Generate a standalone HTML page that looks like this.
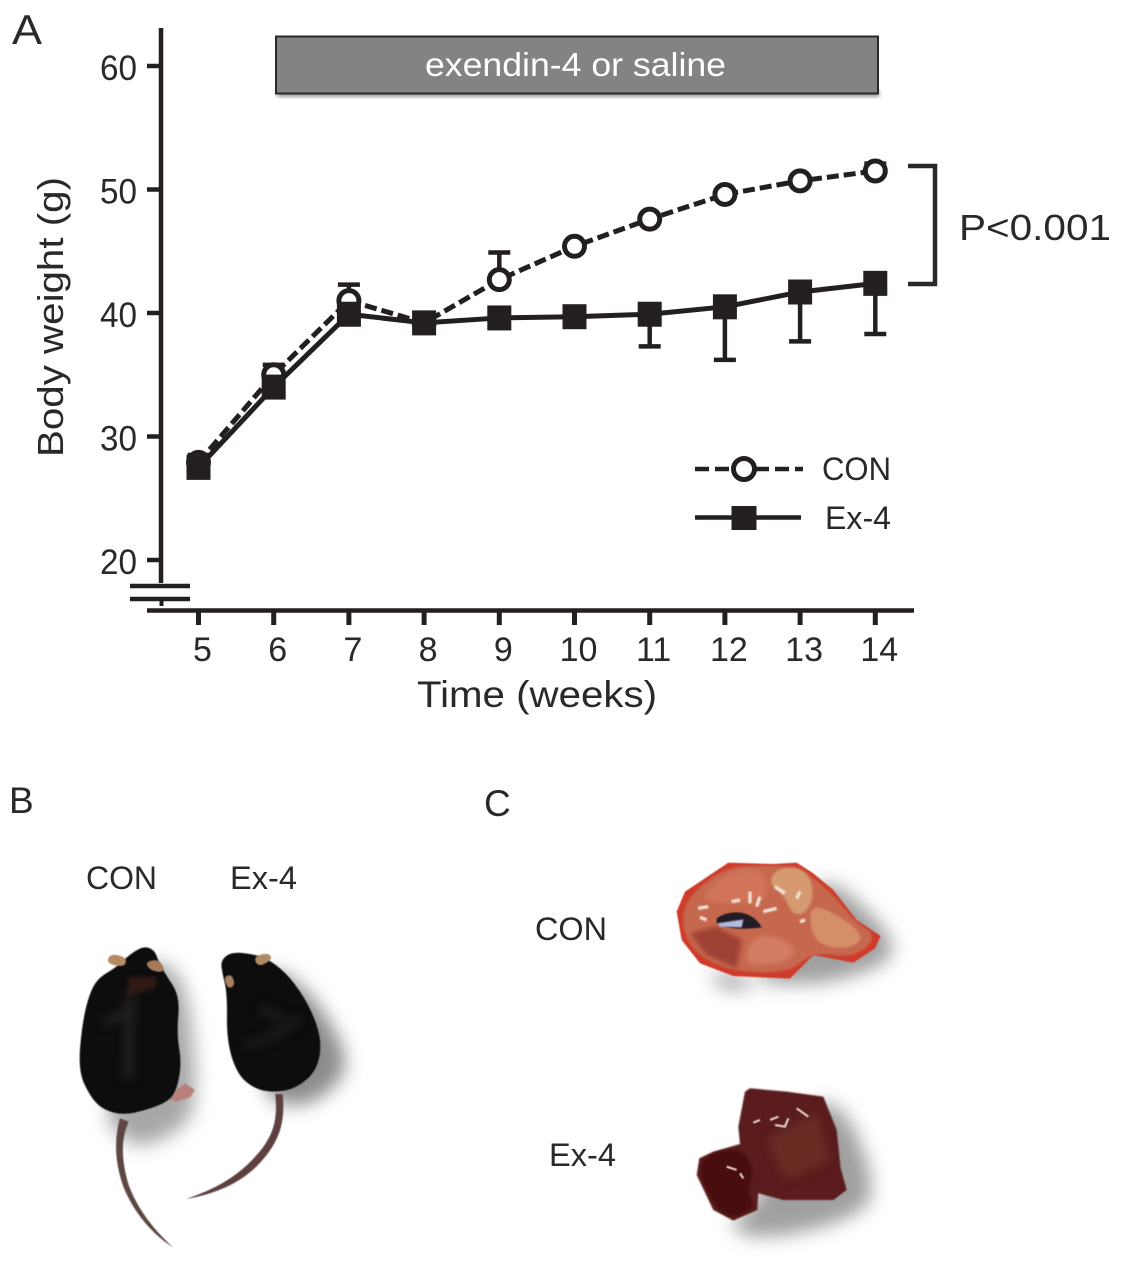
<!DOCTYPE html>
<html lang="en">
<head>
<meta charset="utf-8">
<title>Body weight chart</title>
<style>
html,body{margin:0;padding:0;background:#fff;width:1126px;height:1265px;overflow:hidden}
svg{display:block}
text{font-family:"Liberation Sans",sans-serif;fill:#2b2829}
</style>
</head>
<body>
<svg id="fig" xmlns="http://www.w3.org/2000/svg" width="1126" height="1265" viewBox="0 0 1126 1265">
<defs>
<filter id="b30" x="-60%" y="-60%" width="220%" height="220%"><feGaussianBlur stdDeviation="28"/></filter>
<filter id="b16" x="-60%" y="-60%" width="220%" height="220%"><feGaussianBlur stdDeviation="15"/></filter>
<filter id="b8" x="-40%" y="-40%" width="180%" height="180%"><feGaussianBlur stdDeviation="7"/></filter>
<filter id="b3" x="-20%" y="-20%" width="140%" height="140%"><feGaussianBlur stdDeviation="3"/></filter>
<filter id="b2" x="-20%" y="-20%" width="140%" height="140%"><feGaussianBlur stdDeviation="2"/></filter>
<filter id="b1" x="-20%" y="-20%" width="140%" height="140%"><feGaussianBlur stdDeviation="1.500"/></filter>
</defs>

<text x="12" y="44" font-size="42" textLength="30" lengthAdjust="spacingAndGlyphs">A</text>
<text x="9" y="813" font-size="37">B</text>
<text x="484" y="816" font-size="37">C</text>

<g id="chart"></g>

<g>
<rect x="277" y="90" width="602" height="7" fill="#9a9a9a" filter="url(#b2)"/>
<rect x="276" y="36.500" width="602" height="57" fill="#838386" stroke="#2b2829" stroke-width="2"/>
<text x="425" y="76" font-size="33" style="fill:#fff" textLength="301" lengthAdjust="spacingAndGlyphs">exendin-4 or saline</text>
</g>

<path d="M908 166H935V284H908" fill="none" stroke="#2b2829" stroke-width="4.500"/>
<text x="959" y="240" font-size="36" textLength="152" lengthAdjust="spacingAndGlyphs">P&lt;0.001</text>

<g>
<path d="M695 469H803" stroke="#231f20" stroke-width="4.500" stroke-dasharray="14 6" fill="none"/>
<circle cx="744" cy="469" r="10.500" fill="#fff" stroke="#231f20" stroke-width="5"/>
<text x="822" y="480" font-size="32" textLength="69" lengthAdjust="spacingAndGlyphs">CON</text>
<path d="M695 517.500H801" stroke="#231f20" stroke-width="4.500" fill="none"/>
<rect x="731.500" y="506" width="25" height="24" fill="#231f20"/>
<text x="825" y="529" font-size="32" textLength="66" lengthAdjust="spacingAndGlyphs">Ex-4</text>
</g>

<!-- Panel B -->
<text x="86" y="889" font-size="32" textLength="71" lengthAdjust="spacingAndGlyphs">CON</text>
<text x="230" y="889" font-size="32" textLength="67" lengthAdjust="spacingAndGlyphs">Ex-4</text>
<g transform="translate(0,780) scale(.3333)">
  <path class="sm" d="M430 530L530 560L575 700L590 950L560 1040L440 1100L380 1090L300 1000Z" fill="#8a8a8a" opacity=".75" filter="url(#b30)"/>
  <path class="sm" d="M780 540L920 620L1030 790L1040 880L960 960L860 985L780 930Z" fill="#6e6e6e" opacity=".8" filter="url(#b30)"/>
  <path d="M360 1015C342 1080 344 1145 370 1220C402 1300 460 1365 519 1402C472 1358 418 1300 386 1215C364 1140 362 1080 386 1025Z" fill="#5d4643" filter="url(#b1)"/>
  <path d="M510 960L530 930L555 910L585 930L570 952L530 965Z" fill="#b7807a" filter="url(#b1)"/>
  <path class="sm" d="M395 518L435 498L465 512L475 545L495 580L540 650L530 760L545 850L530 930L505 965L440 990L370 1005L310 990L270 950L234 870L248 720L272 630L300 590L345 565Z" fill="#0c0807" filter="url(#b1)"/>
  <path class="sm" d="M318 550L332 520L380 532L375 562Z" fill="#b58b63" filter="url(#b1)"/>
  <path class="sm" d="M435 545L480 538L497 578L450 572Z" fill="#a87a5c" filter="url(#b1)"/>
  <path d="M385 590L470 590L465 625L380 650Z" fill="#3a1c18" opacity=".8" filter="url(#b8)"/>
  <path d="M390 640L385 900M310 730L400 690" stroke="#3a3230" stroke-width="24" fill="none" opacity=".55" filter="url(#b16)"/>
  <path d="M826 942C834 1020 820 1070 770 1125C715 1190 640 1230 558 1257C650 1242 735 1205 792 1135C842 1075 856 1020 848 942Z" fill="#5f4040" filter="url(#b1)"/>
  <path class="sm" d="M663 540L695 516L760 522L810 540L870 590L930 680L966 780L952 870L890 925L820 938L760 925L710 880L680 780L682 640L666 575Z" fill="#0c0807" filter="url(#b1)"/>
  <path class="sm" d="M760 530L805 518L818 538L775 562Z" fill="#b08a63" filter="url(#b1)"/>
  <path class="sm" d="M670 592L695 582L706 615L685 628Z" fill="#a77d63" filter="url(#b1)"/>
  <path d="M740 790C790 790 850 760 900 710M780 680L850 720" stroke="#332b29" stroke-width="22" fill="none" opacity=".5" filter="url(#b16)"/>
</g>

<!-- Panel C -->
<text x="535" y="940" font-size="32" textLength="72" lengthAdjust="spacingAndGlyphs">CON</text>
<text x="549" y="1166" font-size="32" textLength="67" lengthAdjust="spacingAndGlyphs">Ex-4</text>
<g transform="translate(600,840) scale(.3333)">
  <path class="sm" d="M290 380L600 450L860 380L890 300L720 130L640 130L500 400L400 470Z" fill="#808080" opacity=".75" filter="url(#b30)"/>
  <path d="M230 215L255 155L300 125L385 68L520 72L590 68L640 100L700 150L770 240L842 288L825 325L760 368L640 345L570 416L400 408L300 370L245 300Z" fill="#cf3a2c" filter="url(#b1)"/>
  <path class="sm" d="M245 215L285 150L385 78L510 78L590 78L635 110L695 160L765 245L835 290L760 355L640 335L565 400L405 395L310 358L255 295Z" fill="#c6684d" filter="url(#b3)"/>
  <path d="M270 280L320 345L410 385L425 300L350 260Z" fill="#94382e" opacity=".8" filter="url(#b8)"/>
  <path class="sm" d="M300 170L390 90L490 85L510 170L440 190L350 190Z" fill="#d67a60" opacity=".7" filter="url(#b8)"/>
  <path class="sm" d="M505 130L530 85L600 82L635 120L640 180L610 225L575 220L555 170Z" fill="#d59a70" filter="url(#b3)"/>
  <path class="sm" d="M625 195L700 215L800 290L740 330L640 310Z" fill="#d58f68" filter="url(#b3)"/>
  <path class="sm" d="M440 320L490 275L590 320L570 365L440 380Z" fill="#d5806a" opacity=".85" filter="url(#b8)"/>
  <path d="M350 235C390 208 455 208 485 262C440 268 390 270 350 250Z" fill="#241a25" filter="url(#b1)"/>
  <path d="M352 250L430 238L425 262L360 260Z" fill="#b4bde0" filter="url(#b2)"/>
  <path d="M295 205L325 200M395 185L420 180M450 155V190M480 170L470 200M490 215L530 205M525 140L555 160M600 155L590 175M300 232L320 240M600 245L615 240" stroke="#f3e2d8" stroke-width="10" fill="none" filter="url(#b2)"/>
  <path class="sm" d="M620 780L740 800L830 1040L780 1130L520 1200L370 1170L470 1090Z" fill="#808080" opacity=".75" filter="url(#b30)"/>
  <path d="M435 755L450 745L560 755L670 770L710 870L722 985L740 1050L700 1080L550 1080L475 1060L472 1110L400 1142L340 1110L290 1005L298 955L340 935L420 912L415 860Z" fill="#5a1f1a" filter="url(#b2)"/>
  <path class="sm" d="M292 990L320 945L420 920L465 990L440 1060L470 1100L400 1135L345 1105Z" fill="#48110f" filter="url(#b3)"/>
  <path d="M500 900L650 820L690 960L560 1020Z" fill="#6e3126" opacity=".75" filter="url(#b16)"/>
  <path d="M460 848L480 840M510 840L535 830M525 855L555 860L565 835M590 805L625 830M380 980L410 990M420 1000L430 1015" stroke="#e8d8d2" stroke-width="6" fill="none" filter="url(#b1)"/>
</g>

<script>
var weeks = [5, 6, 7, 8, 9, 10, 11, 12, 13, 14];
var conValues = [27.9, 35.0, 41.0, 39.2, 42.7, 45.4, 47.6, 49.6, 50.7, 51.5];
var ex4Values = [27.5, 34.0, 39.9, 39.2, 39.6, 39.7, 39.9, 40.5, 41.7, 42.4];
var conUpper = [28.5, 35.8, 42.3, null, 44.9, null, null, null, null, 52.1];
var ex4Lower = [null, null, null, null, null, null, 37.3, 36.2, 37.7, 38.3];
var yTicks = [20, 30, 40, 50, 60];

function xScale(w) { return 198.500 + (w - 5) * 75.200; }
function yScale(v) { return 560 - (v - 20) * 12.350; }

// Round off the hand-traced photo silhouettes.
Array.prototype.forEach.call(document.querySelectorAll('path.sm'), function (p) {
  var n = p.getAttribute('d').match(/-?\d+(\.\d+)?/g).map(Number);
  var P = [];
  for (var i = 0; i < n.length; i += 2) { P.push([n[i], n[i + 1]]); }
  var mid = function (a, b) { return ((a[0] + b[0]) / 2) + ' ' + ((a[1] + b[1]) / 2); };
  var d = 'M' + mid(P[P.length - 1], P[0]);
  P.forEach(function (q, j) { d += 'Q' + q[0] + ' ' + q[1] + ' ' + mid(q, P[(j + 1) % P.length]); });
  p.setAttribute('d', d + 'Z');
});

var root = document.getElementById('chart');
var INK = '#231f20';
function mk(tag, attrs, text) {
  var el = document.createElementNS('http://www.w3.org/2000/svg', tag);
  for (var k in attrs) { el.setAttribute(k, attrs[k]); }
  if (text !== undefined) { el.textContent = text; }
  root.appendChild(el);
  return el;
}
function pts(values) {
  return values.map(function (v, i) { return xScale(weeks[i]) + ',' + yScale(v); }).join(' ');
}
var e;

e = mk('path', { d: 'M161 28V583', stroke: INK, 'stroke-width': 4.500, fill: 'none' });


e = mk('path', { d: 'M130 586H190M130 599H190', stroke: INK, 'stroke-width': 4.500, fill: 'none' });


e = mk('path', { d: 'M161.500 599V606', stroke: INK, 'stroke-width': 4, fill: 'none' });


e = mk('path', { d: 'M147 610.500H914', stroke: INK, 'stroke-width': 4.500, fill: 'none' });



yTicks.forEach(function (t) {
  var y = yScale(t);
  var el = mk('path', { d: 'M147 ' + y + 'H161', stroke: INK, 'stroke-width': 4.500, fill: 'none' });
  
  
  var lb = mk('text', { x: 100, y: y + 14, 'font-size': 35, textLength: 37, lengthAdjust: 'spacingAndGlyphs' }, String(t));
  
  
});

weeks.forEach(function (w) {
  var x = xScale(w);
  var el = mk('path', { d: 'M' + x + ' 611V625', stroke: INK, 'stroke-width': 5, fill: 'none' });
  
  
  var lb = mk('text', { x: x + 4, y: 661, 'font-size': 34, 'text-anchor': 'middle' }, String(w));
  
  
});

e = mk('text', { x: 417, y: 707, 'font-size': 37, textLength: 240, lengthAdjust: 'spacingAndGlyphs' }, 'Time (weeks)');


e = mk('text', { x: 0, y: 0, 'font-size': 36, 'text-anchor': 'middle', transform: 'translate(63,317) rotate(-90)', textLength: 280, lengthAdjust: 'spacingAndGlyphs' }, 'Body weight (g)');



// CON error bars
conUpper.forEach(function (v, i) {
  if (v === null) { return; }
  var x = xScale(weeks[i]);
  var el = mk('path', { d: 'M' + x + ' ' + yScale(conValues[i]) + 'V' + yScale(v) + 'M' + (x - 11) + ' ' + yScale(v) + 'H' + (x + 11), stroke: INK, 'stroke-width': 4.500, fill: 'none' });
  
  
});

// CON series
e = mk('polyline', { points: pts(conValues), fill: 'none', stroke: INK, 'stroke-width': 5, 'stroke-dasharray': '12 5' });


conValues.forEach(function (v, i) {
  var el = mk('circle', { cx: xScale(weeks[i]), cy: yScale(v), r: 10, fill: '#fff', stroke: INK, 'stroke-width': 5 });
  
  
});

// Ex-4 error bars
ex4Lower.forEach(function (v, i) {
  if (v === null) { return; }
  var x = xScale(weeks[i]);
  var el = mk('path', { d: 'M' + x + ' ' + yScale(ex4Values[i]) + 'V' + yScale(v) + 'M' + (x - 11) + ' ' + yScale(v) + 'H' + (x + 11), stroke: INK, 'stroke-width': 4.500, fill: 'none' });
  
  
});

// Ex-4 series
e = mk('polyline', { points: pts(ex4Values), fill: 'none', stroke: INK, 'stroke-width': 5 });


ex4Values.forEach(function (v, i) {
  var el = mk('rect', { x: xScale(weeks[i]) - 12, y: yScale(v) - 12.500, width: 24, height: 25, fill: INK });
  
  
});
</script>
</svg>
</body>
</html>
